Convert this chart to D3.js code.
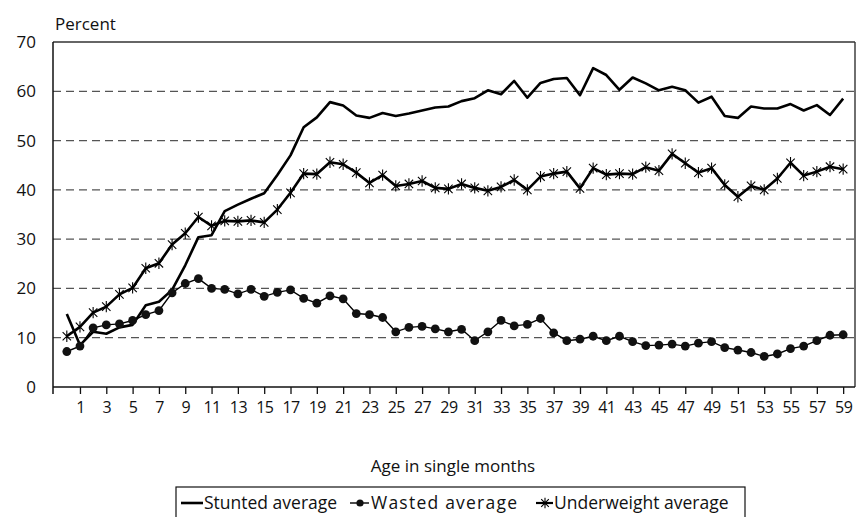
<!DOCTYPE html>
<html>
<head>
<meta charset="utf-8">
<script src="https://cdn.jsdelivr.net/npm/d3@7"></script>
<style>
  html, body { margin: 0; padding: 0; background: #fff; }
  svg { display: block; }
  text { font-family: "Open Sans", Lato, sans-serif; fill: #111; }
</style>
</head>
<body>
<svg id="chart" width="856" height="517"></svg>
<script>
const months = d3.range(0, 60);
const stunted = [14.8, 8.5, 11.2, 10.8, 12.1, 12.6, 16.6, 17.3, 19.7, 24.7,
  30.4, 30.8, 35.7, 37.0, 38.2, 39.3, 43.0, 47.0, 52.7, 54.7,
  57.8, 57.1, 55.1, 54.6, 55.6, 55.0, 55.5, 56.1, 56.7, 56.9,
  58.0, 58.6, 60.2, 59.4, 62.1, 58.7, 61.7, 62.5, 62.7, 59.2,
  64.7, 63.3, 60.3, 62.8, 61.6, 60.2, 60.9, 60.2, 57.7, 58.9,
  55.0, 54.6, 56.9, 56.5, 56.5, 57.4, 56.1, 57.2, 55.2, 58.5];
const wasted = [7.2, 8.3, 12.0, 12.6, 12.8, 13.5, 14.7, 15.5, 19.1, 21.0,
  22.0, 20.0, 19.8, 18.9, 19.8, 18.4, 19.2, 19.7, 18.0, 17.0,
  18.5, 17.9, 14.9, 14.7, 14.1, 11.2, 12.1, 12.3, 11.8, 11.2,
  11.7, 9.4, 11.2, 13.5, 12.4, 12.7, 13.9, 11.0, 9.4, 9.7,
  10.3, 9.4, 10.3, 9.2, 8.4, 8.5, 8.7, 8.3, 8.9, 9.2,
  8.0, 7.5, 7.0, 6.2, 6.7, 7.8, 8.3, 9.4, 10.5, 10.6];
const underweight = [10.3, 12.2, 15.1, 16.3, 18.8, 20.1, 24.1, 25.1, 28.9, 31.2,
  34.5, 32.7, 33.7, 33.6, 33.8, 33.4, 36.0, 39.4, 43.3, 43.2,
  45.6, 45.2, 43.5, 41.4, 43.0, 40.8, 41.2, 41.8, 40.4, 40.2,
  41.2, 40.4, 39.8, 40.6, 42.0, 40.0, 42.7, 43.3, 43.7, 40.3,
  44.4, 43.1, 43.3, 43.2, 44.6, 43.9, 47.3, 45.4, 43.5, 44.4,
  41.0, 38.6, 40.8, 40.0, 42.3, 45.5, 42.9, 43.7, 44.7, 44.2];
const xTickLabels = d3.range(1, 60, 2);
const yTicks = [0, 10, 20, 30, 40, 50, 60, 70];
const legendLabels = ["Stunted average", "Wasted average", "Underweight average"];

const FONT = '"Open Sans", Lato, sans-serif';
const svg = d3.select("#chart");
const L = 53, R = 855, T = 42, B = 387;
const x = d3.scaleLinear().domain([-1.05, 59.9]).range([L, R]);
const y = d3.scaleLinear().domain([0, 70]).range([B, T]);

// gridlines
svg.append("g").selectAll("line").data(yTicks.filter(v => v > 0 && v < 70)).join("line")
  .attr("x1", L).attr("x2", R).attr("y1", d => y(d)).attr("y2", d => y(d))
  .attr("stroke", "#555").attr("stroke-width", 1.2).attr("stroke-dasharray", "8,5");

// top & right border
svg.append("line").attr("x1", L).attr("x2", R).attr("y1", y(70)).attr("y2", y(70))
  .attr("stroke", "#333").attr("stroke-width", 1.4);
svg.append("line").attr("x1", R).attr("x2", R).attr("y1", y(70)).attr("y2", y(0))
  .attr("stroke", "#333").attr("stroke-width", 1.4);

// y axis
const yAxis = d3.axisLeft(y).tickValues(yTicks).tickSize(0).tickPadding(17);
const gy = svg.append("g").attr("transform", `translate(${L},0)`).call(yAxis);
gy.select(".domain").remove();
gy.selectAll("text").style("font-size", "17px").style("font-family", FONT).attr("fill", "#111");
svg.append("line").attr("x1", L).attr("x2", L).attr("y1", T).attr("y2", B + 7)
  .attr("stroke", "#111").attr("stroke-width", 1.5);

// x axis
const xAxis = d3.axisBottom(x).tickValues(xTickLabels).tickSize(7).tickPadding(8).tickFormat(d3.format("d"));
const gx = svg.append("g").attr("transform", `translate(0,${B})`).call(xAxis);
gx.select(".domain").remove();
gx.selectAll(".tick line").attr("stroke", "#111").attr("stroke-width", 1.3);
gx.selectAll("text").style("font-size", "16px").style("font-family", FONT).style("letter-spacing", "-0.6px").attr("fill", "#111");
svg.append("line").attr("x1", L).attr("x2", R).attr("y1", B).attr("y2", B)
  .attr("stroke", "#111").attr("stroke-width", 1.5);

// titles
svg.append("text").attr("x", 55).attr("y", 30).style("font-size", "17px").text("Percent");
svg.append("text").attr("x", 453).attr("y", 472).attr("text-anchor", "middle")
  .style("font-size", "17px").text("Age in single months");

const line = d3.line().x((d, i) => x(months[i])).y(d => y(d));

// stunted
svg.append("path").datum(stunted).attr("d", line)
  .attr("fill", "none").attr("stroke", "#000").attr("stroke-width", 2.6).attr("stroke-linejoin", "round");

// wasted
svg.append("path").datum(wasted).attr("d", line)
  .attr("fill", "none").attr("stroke", "#000").attr("stroke-width", 1.4);
svg.append("g").selectAll("circle").data(wasted).join("circle")
  .attr("cx", (d, i) => x(months[i])).attr("cy", d => y(d)).attr("r", 4.4).attr("fill", "#111");

// underweight
svg.append("path").datum(underweight).attr("d", line)
  .attr("fill", "none").attr("stroke", "#000").attr("stroke-width", 2.6).attr("stroke-linejoin", "round");
const starPath = (s) => `M${-s},${-s}L${s},${s}M${-s},${s}L${s},${-s}M0,${-s * 1.35}L0,${s * 1.35}`;
svg.append("g").selectAll("path").data(underweight).join("path")
  .attr("transform", (d, i) => `translate(${x(months[i])},${y(d)})`)
  .attr("d", starPath(4.2)).attr("stroke", "#000").attr("stroke-width", 1.1).attr("fill", "none");

// legend
const lg = svg.append("g");
lg.append("rect").attr("x", 176).attr("y", 487).attr("width", 569).attr("height", 40)
  .attr("fill", "#fff").attr("stroke", "#111").attr("stroke-width", 1.2);
const ly = 503;
// stunted
lg.append("line").attr("x1", 181).attr("x2", 203).attr("y1", ly).attr("y2", ly).attr("stroke", "#000").attr("stroke-width", 2.6);
lg.append("text").attr("x", 204).attr("y", 509).style("font-size", "17.5px").text(legendLabels[0]);
// wasted
lg.append("line").attr("x1", 350).attr("x2", 369).attr("y1", ly).attr("y2", ly).attr("stroke", "#000").attr("stroke-width", 1.4);
lg.append("circle").attr("cx", 360).attr("cy", ly).attr("r", 3.6).attr("fill", "#111");
lg.append("text").attr("x", 371).attr("y", 509).style("font-size", "17.5px")
  .attr("textLength", 146).attr("lengthAdjust", "spacing").text(legendLabels[1]);
// underweight
lg.append("line").attr("x1", 536).attr("x2", 553).attr("y1", ly).attr("y2", ly).attr("stroke", "#000").attr("stroke-width", 2.2);
lg.append("path").attr("transform", `translate(545,${ly})`).attr("d", starPath(3.8)).attr("stroke", "#000").attr("stroke-width", 1.1);
lg.append("text").attr("x", 554).attr("y", 509).style("font-size", "17.5px").text(legendLabels[2]);
</script>
</body>
</html>
